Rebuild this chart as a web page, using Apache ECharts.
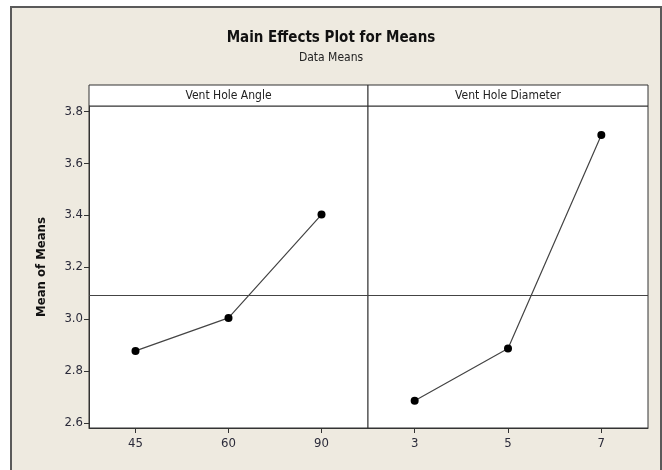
<!DOCTYPE html>
<html>
<head>
<meta charset="utf-8">
<script src="https://cdn.jsdelivr.net/npm/echarts@6/dist/echarts.min.js"></script>
<style>
html,body{margin:0;padding:0;background:#ffffff;}
#chart{width:662px;height:470px;}
</style>
</head>
<body>
<div id="chart"></div>
<script>
// ---- data ----
var angleCategories = ['45', '60', '90'];
var angleMeans = [2.877, 3.004, 3.402];
var diameterCategories = ['3', '5', '7'];
var diameterMeans = [2.685, 2.886, 3.708];
var yTickLabels = ['2.6', '2.8', '3.0', '3.2', '3.4', '3.6', '3.8'];
var panelNames = ['Vent Hole Angle', 'Vent Hole Diameter'];
var titleText = 'Main Effects Plot for Means';
var subtitleText = 'Data Means';
var yAxisName = 'Mean of Means';

// grand mean (reference line)
var all = angleMeans.concat(diameterMeans);
var grandMean = all.reduce(function (a, b) { return a + b; }, 0) / all.length;

var FONT = '"DejaVu Sans Condensed", "DejaVu Sans", sans-serif';
var yTickValues = yTickLabels.map(Number);

var chart = echarts.init(document.getElementById('chart'), null, {renderer: 'canvas'});

var gridTop = 106, gridBottom = 42, leftX = 89, midX = 368, rightX = 648;

function yAxisCfg(gridIndex, showLabels) {
  return {
    type: 'value', gridIndex: gridIndex, min: 2.58, max: 3.82,
    axisLine: {show: showLabels, lineStyle: {color: '#333', width: 1}},
    axisTick: {show: showLabels, inside: false, customValues: yTickValues, length: 5, lineStyle: {color: '#333'}},
    axisLabel: {show: showLabels, customValues: yTickValues, margin: 6,
      formatter: function (v) { return v.toFixed(1); },
      fontFamily: FONT, fontSize: 13, color: '#2b2b3a'},
    splitLine: {show: false},
    name: showLabels ? yAxisName : '',
    nameLocation: 'middle', nameGap: 41, nameRotate: 90,
    nameTextStyle: {fontFamily: FONT, fontSize: 13, fontWeight: 'bold', color: '#111'}
  };
}
function xAxisCfg(gridIndex, cats) {
  return {
    type: 'category', gridIndex: gridIndex, data: cats, boundaryGap: true,
    axisLine: {show: true, lineStyle: {color: '#333', width: 1}},
    axisTick: {show: true, alignWithLabel: true, length: 5, lineStyle: {color: '#333'}},
    axisLabel: {margin: 9, fontFamily: FONT, fontSize: 13, color: '#2b2b3a'},
    splitLine: {show: false}
  };
}
function seriesCfg(idx, values) {
  return {
    type: 'line', xAxisIndex: idx, yAxisIndex: idx, data: values,
    symbol: 'circle', symbolSize: 8,
    itemStyle: {color: '#000'},
    lineStyle: {color: '#444', width: 1.2},
    animation: false,
    markLine: {
      silent: true, symbol: ['none', 'none'], label: {show: false},
      lineStyle: {color: '#444', width: 1, type: 'solid'},
      data: [{yAxis: grandMean}], animation: false
    }
  };
}

var option = {
  backgroundColor: '#ffffff',
  animation: false,
  grid: [
    {left: leftX, top: gridTop, width: midX - leftX, bottom: gridBottom, show: true, borderColor: '#333', borderWidth: 1, backgroundColor: '#ffffff'},
    {left: midX, top: gridTop, width: rightX - midX, bottom: gridBottom, show: true, borderColor: '#333', borderWidth: 1, backgroundColor: '#ffffff'}
  ],
  xAxis: [xAxisCfg(0, angleCategories), xAxisCfg(1, diameterCategories)],
  yAxis: [yAxisCfg(0, true), yAxisCfg(1, false)],
  series: [seriesCfg(0, angleMeans), seriesCfg(1, diameterMeans)],
  graphic: [
    {type: 'rect', z: -10, shape: {x: 11, y: 7, width: 650, height: 480},
      style: {fill: '#eeeae0', stroke: '#5a5a5a', lineWidth: 2}},
    {type: 'text', left: 'center', top: 31, style: {text: titleText, font: 'bold 15px ' + FONT, fill: '#111'}},
    {type: 'text', left: 'center', top: 52, style: {text: subtitleText, font: '12px ' + FONT, fill: '#222'}},
    {type: 'rect', shape: {x: leftX, y: 85, width: midX - leftX, height: 21},
      style: {fill: '#ffffff', stroke: '#333', lineWidth: 1}},
    {type: 'rect', shape: {x: midX, y: 85, width: rightX - midX, height: 21},
      style: {fill: '#ffffff', stroke: '#333', lineWidth: 1}},
    {type: 'text', x: (leftX + midX) / 2, y: 96, style: {text: panelNames[0], font: '12px ' + FONT, fill: '#222', align: 'center', verticalAlign: 'middle'}},
    {type: 'text', x: (midX + rightX) / 2, y: 96, style: {text: panelNames[1], font: '12px ' + FONT, fill: '#222', align: 'center', verticalAlign: 'middle'}}
  ]
};
chart.setOption(option);
</script>
</body>
</html>
